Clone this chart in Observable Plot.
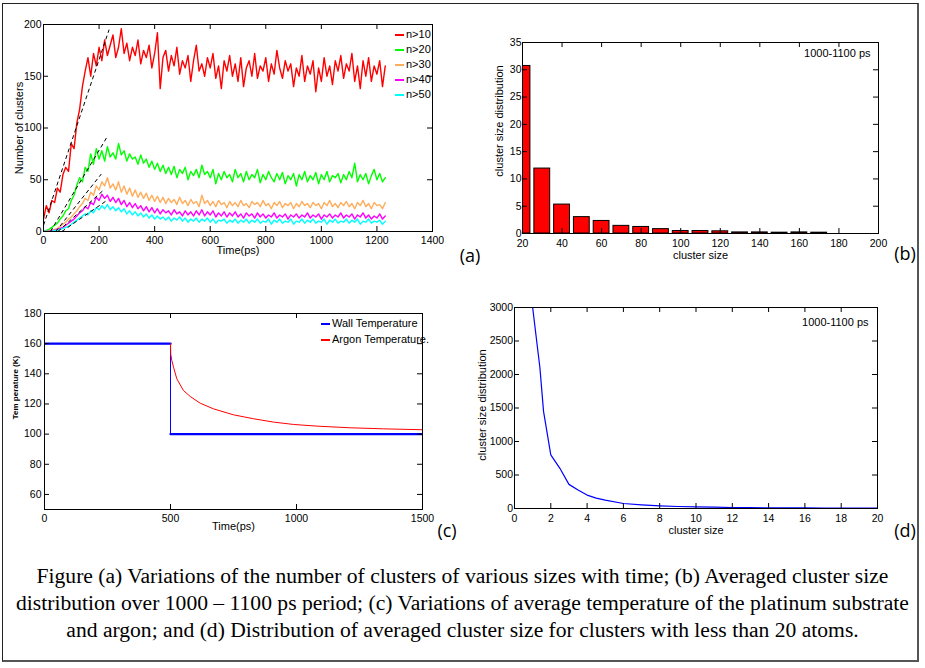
<!DOCTYPE html>
<html><head><meta charset="utf-8">
<script src="https://cdn.jsdelivr.net/npm/d3@7"></script>
<script src="https://cdn.jsdelivr.net/npm/@observablehq/plot@0.6"></script>
<style>
body{margin:0;background:#fff;}
#fig{position:relative;width:925px;height:668px;overflow:hidden;background:#fff;font-family:"Liberation Sans",Arial,sans-serif;}
.panel{position:absolute;}
.frameBox{position:absolute;left:2px;top:3px;width:914px;height:656px;border:1px solid #222;border-right:2px solid #555;border-bottom:2px solid #555;}
.plabel{position:absolute;font-family:"Open Sans",sans-serif;font-size:18px;line-height:1;transform:translate(-50%,-50%);white-space:nowrap;}
.caption{position:absolute;left:0;width:925px;top:563px;text-align:center;font-family:"Liberation Serif","Times New Roman",serif;font-size:21.6px;line-height:27px;white-space:nowrap;}
.leg{position:absolute;font-size:11px;line-height:11px;white-space:nowrap;color:#000;}
.leg span.sw{display:inline-block;width:9px;height:2px;vertical-align:middle;margin-right:2px;}
</style></head><body>
<div id="fig">
  <div class="frameBox"></div>
  <div id="pa" class="panel" style="left:0;top:0"></div>
  <div id="pb" class="panel" style="left:470px;top:0"></div>
  <div id="pc" class="panel" style="left:0;top:290px"></div>
  <div id="pd" class="panel" style="left:470px;top:290px"></div>
  <div id="legA"></div>
  <div id="legC"></div>
  <div class="plabel" style="left:470px;top:255px">(a)</div>
  <div class="plabel" style="left:905px;top:253px">(b)</div>
  <div class="plabel" style="left:447px;top:530px">(c)</div>
  <div class="plabel" style="left:905px;top:530px">(d)</div>
  <div class="caption">Figure (a) Variations of the number of clusters of various sizes with time; (b) Averaged cluster size<br>distribution over 1000 – 1100 ps period; (c) Variations of average temperature of the platinum substrate<br>and argon; and (d) Distribution of averaged cluster size for clusters with less than 20 atoms.</div>
</div>
<script>
// ---------- Panel (a): number of clusters vs time (sampled every 10 ps) ----------
const timeStep = 10;
const seriesNames = ["n>10", "n>20", "n>30", "n>40", "n>50"];
const seriesColors = ["#ff0000", "#00ff00", "#ffad5c", "#ff00ff", "#00ffff"];
const n10 = [12,25,18,30,28,42,38,55,62,58, 85,80,105,118,140,155,168,150,172,160,
  178,165,185,170,180,190,168,178,196,172, 182,165,178,170,185,162,175,168,180,158,
  172,192,138,168,175,155,170,160,178,152, 165,158,170,145,165,180,155,162,150,168,
  158,172,148,160,138,165,155,170,150,162, 145,168,140,158,165,150,172,148,160,155,
  168,145,162,152,175,158,148,165,155,162, 140,158,150,170,145,160,152,165,135,158,
  145,168,150,160,142,165,155,170,148,162, 155,172,145,160,138,165,150,168,145,160,
  152,165,140,160];
const n20 = [0,1,2,4,6,8,12,15,20,22, 30,35,45,52,48,62,58,75,65,80,
  70,78,68,82,72,76,70,85,74,78, 68,75,70,72,65,74,66,70,62,68,
  60,66,58,64,56,62,55,63,52,60, 56,62,50,58,54,60,52,64,55,58,
  52,60,46,56,50,58,52,55,48,60, 52,56,48,58,50,55,52,60,47,55,
  50,58,52,48,56,50,57,46,54,50, 56,44,55,50,58,48,54,50,57,46,
  55,50,58,48,54,52,56,47,55,50, 58,52,66,48,55,50,56,46,54,60,
  50,56,48,52];
const n30 = [0,0,1,1,2,3,5,7,9,12, 14,17,20,24,27,32,30,38,35,44,
  40,48,44,52,42,46,40,48,38,44, 36,42,34,40,33,38,32,37,30,35,
  29,34,28,33,27,32,28,31,26,33, 27,30,25,31,27,29,24,35,27,30,
  25,29,24,30,26,28,23,29,25,28, 24,30,25,27,23,29,26,28,24,30,
  25,27,22,28,25,29,23,27,25,28, 22,27,24,29,25,27,23,28,25,27,
  22,28,25,30,24,27,23,28,25,29, 24,27,22,28,25,30,24,27,22,28,
  25,26,22,28];
const n40 = [0,0,0,1,1,2,3,4,6,8, 10,12,15,18,20,24,22,28,26,33,
  30,36,32,35,29,33,28,32,26,30, 24,28,23,27,22,25,20,24,19,23,
  18,22,17,21,18,20,16,21,17,19, 15,20,16,19,15,20,16,21,15,19,
  16,20,14,18,15,19,14,18,15,19, 14,17,13,18,15,17,13,18,14,17,
  13,16,14,18,13,16,14,17,12,16, 14,17,13,16,14,18,13,16,14,17,
  12,16,14,17,13,16,14,18,13,16, 14,17,12,16,14,18,13,16,12,15,
  13,17,12,15];
const n50 = [0,0,0,0,1,1,2,3,4,5, 7,9,11,13,15,17,16,20,18,23,
  21,25,22,26,21,24,20,23,19,22, 17,20,16,19,15,18,14,17,13,16,
  12,15,12,14,11,14,10,13,11,14, 10,13,9,12,10,13,9,12,10,13,
  9,12,8,11,10,12,8,11,9,12, 8,11,9,12,8,11,9,12,8,10,
  9,12,7,11,9,12,8,10,9,12, 7,10,9,12,8,11,9,12,8,10,
  9,12,7,11,9,12,8,10,9,12, 8,11,9,12,7,10,9,12,8,10,
  9,11,7,10];
const seriesValues = [n10, n20, n30, n40, n50];
// dashed linear fits of the growth stage
const fitX1 = [0, 25, 44, 52, 66];
const fitY1 = [6, 0, 0, 0, 0];
const fitX2 = [236, 228, 208, 220, 228];
const fitY2 = [195, 91, 55.5, 41, 30];
const xTicksA = [0,200,400,600,800,1000,1200,1400];
const yTicksA = [0,50,100,150,200];

// ---------- Panel (b): cluster size distribution (bars) ----------
const barSizes = [20,30,40,50,60,70,80,90,100,110,120,130,140,150,160,170];
const barCounts = [30.7,11.9,5.3,3.0,2.3,1.4,1.2,0.8,0.45,0.45,0.4,0.2,0.2,0.15,0.2,0.15];
const xTicksB = [20,40,60,80,100,120,140,160,180,200];
const yTicksB = [0,5,10,15,20,25,30,35];

// ---------- Panel (c): temperatures ----------
const wallTime = [0, 500, 500, 1500];
const wallTemp = [160, 160, 100, 100];
const argonTime = [500, 501, 505, 512, 525, 551, 578, 618, 670, 750, 829, 908, 988, 1081, 1213, 1345, 1500];
const argonTemp = [160, 153, 149, 144.4, 136.7, 129, 125, 120.5, 116.8, 112.8, 110.2, 108, 106.4, 105.3, 104.2, 103.5, 102.9];
const xTicksC = [0, 500, 1000, 1500];
const yTicksC = [60, 80, 100, 120, 140, 160, 180];

// ---------- Panel (d): small cluster distribution ----------
const smallSize = [1,1.4,1.6,2,2.5,3,3.5,4,4.5,5,6,7,8,9,10,11,12,13,14,15,16,17,18,19,20];
const smallCount = [3000,2100,1450,800,600,360,275,200,155,124,75,55,40,30,25,20,15,12,10,9,8,7,6,5,5];
const xTicksD = [0,2,4,6,8,10,12,14,16,18,20];
const yTicksD = [0,500,1000,1500,2000,2500,3000];

const FONT = '"Liberation Sans", Arial, sans-serif';

function panel({W, H, m, xd, yd, xt, yt, xPad, yPad, marks}) {
  const iw = W - m.l - m.r, ih = H - m.t - m.b, len = 5;
  return Plot.plot({
    width: W, height: H,
    marginLeft: m.l, marginRight: m.r, marginTop: m.t, marginBottom: m.b,
    style: {fontFamily: FONT, fontSize: "10.5px", background: "transparent", overflow: "visible", color: "#000"},
    x: {domain: xd, ticks: xt, tickSize: 0, tickPadding: xPad, tickFormat: d => String(d), label: null},
    y: {domain: yd, ticks: yt, tickSize: 0, tickPadding: yPad, tickFormat: d => String(d), label: null},
    marks: [
      ...marks,
      Plot.frame({stroke: "black", strokeWidth: 1}),
      Plot.tickX(xt, {x: d => d, insetTop: ih - len, stroke: "black"}),
      Plot.tickX(xt, {x: d => d, insetBottom: ih - len, stroke: "black"}),
      Plot.tickY(yt, {y: d => d, insetRight: iw - len, stroke: "black"}),
      Plot.tickY(yt, {y: d => d, insetLeft: iw - len, stroke: "black"})
    ]
  });
}
const yLabel = (s, dx, dy, extra = {}) => Plot.text([s], {text: d => d, frameAnchor: "left", dx, dy, rotate: -90, textAnchor: "middle", lineAnchor: "middle", fontSize: 11, ...extra});
const xLabel = (s, dy) => Plot.text([s], {text: d => d, frameAnchor: "bottom", dy, textAnchor: "middle", lineAnchor: "middle", fontSize: 11});

// Panel (a)
const rowsA = seriesNames.map((name, i) => seriesValues[i].map((v, j) => ({t: j * timeStep, v, name})));
const fits = fitX1.map((x1, i) => ({x1, y1: fitY1[i], x2: fitX2[i], y2: fitY2[i]}));
const plotA = panel({
  W: 470, H: 270, m: {l: 43, r: 38, t: 24, b: 39},
  xd: [0, 1400], yd: [0, 200], xt: xTicksA, yt: yTicksA, xPad: 5, yPad: 2,
  marks: [
    ...rowsA.map((rows, i) => Plot.line(rows, {x: "t", y: "v", stroke: seriesColors[i], strokeWidth: 1.4, clip: true})),
    Plot.link(fits, {x1: "x1", y1: "y1", x2: "x2", y2: "y2", stroke: "black", strokeWidth: 1, strokeDasharray: "4,3"}),
    yLabel("Number of clusters", -24, 0, {letterSpacing: "0.5px"}),
    xLabel("Time(ps)", 19)
  ]
});
document.getElementById("pa").append(plotA);

// Panel (b)
const bars = barSizes.map((s, i) => ({size: s, count: barCounts[i]}));
const plotB = panel({
  W: 455, H: 270, m: {l: 52, r: 47, t: 42, b: 37},
  xd: [20, 200], yd: [0, 35], xt: xTicksB, yt: yTicksB, xPad: 6, yPad: 1,
  marks: [
    Plot.rectY(bars, {x1: d => d.size - 4, x2: d => d.size + 4, y: "count", fill: "#ff0000", stroke: "black", strokeWidth: 1, clip: true}),
    Plot.text(["1000-1100 ps"], {text: d => d, frameAnchor: "top-right", dx: -8, dy: 11, textAnchor: "end", lineAnchor: "middle", fontSize: 11}),
    yLabel("cluster size distribution", -23, -17),
    xLabel("cluster size", 22)
  ]
});
document.getElementById("pb").append(plotB);

// Panel (c)
const wall = wallTime.map((t, i) => ({t, v: wallTemp[i], seg: i < 2 ? "hot" : "cold"}));
const argon = argonTime.map((t, i) => ({t, v: argonTemp[i]}));
const plotC = panel({
  W: 470, H: 260, m: {l: 44, r: 48, t: 23, b: 41},
  xd: [0, 1500], yd: [50, 180], xt: xTicksC, yt: yTicksC, xPad: 5, yPad: 3,
  marks: [
    Plot.line(wall, {x: "t", y: "v", stroke: "#0000ff", strokeWidth: 1, clip: true}),
    Plot.line(wall, {x: "t", y: "v", z: "seg", stroke: "#0000ff", strokeWidth: 2.4, clip: true}),
    Plot.line(argon, {x: "t", y: "v", stroke: "#ff0000", strokeWidth: 1, clip: true}),
    yLabel("Tem perature (K)", -29, -24, {fontSize: 8, fontWeight: "bold"}),
    xLabel("Time(ps)", 17)
  ]
});
document.getElementById("pc").append(plotC);

// Panel (d)
const small = smallSize.map((s, i) => ({s, v: smallCount[i]}));
const plotD = panel({
  W: 455, H: 260, m: {l: 44, r: 48, t: 17, b: 42},
  xd: [0, 20], yd: [0, 3000], xt: xTicksD, yt: yTicksD, xPad: 6, yPad: 1.5,
  marks: [
    Plot.line(small, {x: "s", y: "v", stroke: "#0000ff", strokeWidth: 1.2, clip: true}),
    Plot.text(["1000-1100 ps"], {text: d => d, frameAnchor: "top-right", dx: -9, dy: 15, textAnchor: "end", lineAnchor: "middle", fontSize: 11}),
    yLabel("cluster size distribution", -32, -3),
    xLabel("cluster size", 22)
  ]
});
document.getElementById("pd").append(plotD);

// Legends
const legA = document.getElementById("legA");
seriesNames.forEach((name, i) => {
  const el = document.createElement("div");
  el.className = "leg";
  el.style.left = "395px";
  el.style.top = (34 + 15 * i - 5.5) + "px";
  el.innerHTML = `<span class="sw" style="background:${seriesColors[i]}"></span>${name.replace(">", "&gt;")}`;
  legA.append(el);
});
const legC = document.getElementById("legC");
[["Wall Temperature", "#0000ff", 323], ["Argon Temperature.", "#ff0000", 339]].forEach(([name, c, y]) => {
  const el = document.createElement("div");
  el.className = "leg";
  el.style.left = "321px";
  el.style.top = (y - 5.5) + "px";
  el.innerHTML = `<span class="sw" style="background:${c}"></span>${name}`;
  legC.append(el);
});
</script>
</body></html>
